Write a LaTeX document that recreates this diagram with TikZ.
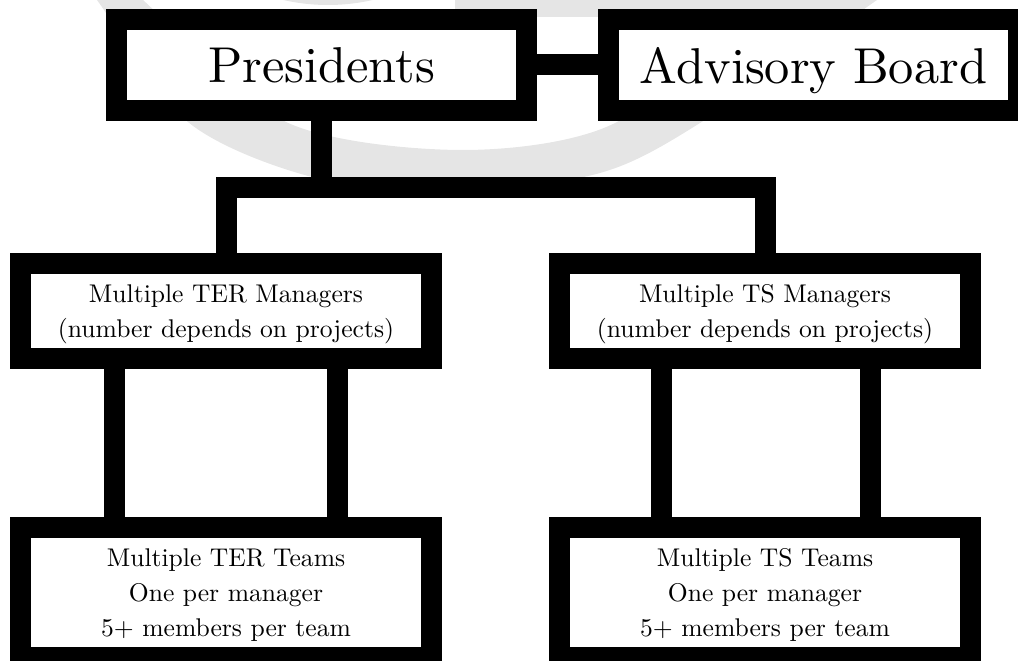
\documentclass[tikz,border=0pt]{standalone}
\usepackage{fontspec}
\setmainfont{lmroman10-regular.otf}
\usepackage{tikz}
\usetikzlibrary{arrows.meta,positioning}

\begin{document}
\begin{tikzpicture}[
  x=0.5pt,
  y=0.5pt,
  watermark/.style={fill=black!10},
  orgbox/.style={draw=black, fill=white, line width=10.5pt, inner sep=0pt, text depth=0pt},
  topbox/.style={orgbox, minimum width=205pt, minimum height=45.5pt, font=\fontsize{25.2}{30}\selectfont},
  midbox/.style={orgbox, align=center, minimum width=205.5pt, minimum height=47.5pt, font=\fontsize{12.8}{17.5}\selectfont},
  lowbox/.style={orgbox, align=center, minimum width=205.5pt, minimum height=65pt, font=\fontsize{12.8}{17.5}\selectfont},
  link/.style={line width=10.5pt}
]
\useasboundingbox (0,0) rectangle (1018,660);

\begin{scope}
\clip (0,0) rectangle (1018,660);
\fill[watermark] plot[smooth] coordinates {(82,680) (97,660) (188,538) (312,483) (456,468) (600,487) (700,537) (877,660) (906,680)}
  -- plot[smooth] coordinates {(772,680) (750,660) (617,538) (463,510) (286,538) (143,660) (127,680)} -- cycle;
\fill[watermark] (328,855) circle (200);
\fill[watermark] (455,643) rectangle (760,680);
\end{scope}

\node[topbox] (pres) at (321.5,595) {Presidents};
\node[topbox] (board) at (813.5,595) {Advisory Board};

\node[midbox] (termgr) at (226,349) {Multiple TER Managers\\(number depends on projects)};
\node[midbox] (tsmgr) at (765,349) {Multiple TS Managers\\(number depends on projects)};

\node[lowbox] (terteam) at (226,67.5) {Multiple TER Teams\\One per manager\\5+ members per team};
\node[lowbox] (tsteam) at (765,67.5) {Multiple TS Teams\\One per manager\\5+ members per team};

\coordinate (split) at (321.5,472);
\draw[link] (pres) -- (board);
\draw[link] (pres) -- (split);
\draw[link] (termgr.north) |- (split) -| (tsmgr.north);

\foreach \from/\to/\dx in {termgr/terteam/-55.75pt, termgr/terteam/55.5pt, tsmgr/tsteam/-52pt, tsmgr/tsteam/52.75pt}
  \draw[link] ([xshift=\dx]\from.south) -- ([xshift=\dx]\to.north);
\end{tikzpicture}
\end{document}
